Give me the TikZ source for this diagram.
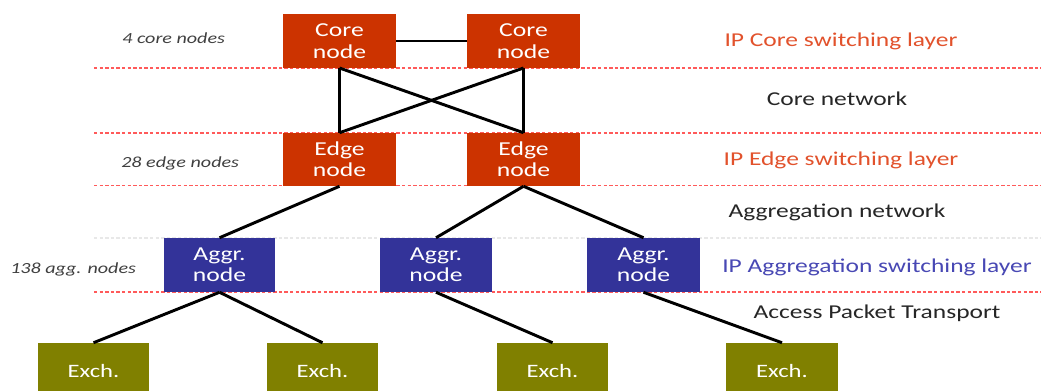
\documentclass[tikz,border=0pt]{standalone}
\usepackage{fontspec}
\setmainfont{Carlito}[FakeStretch=1.3]
\definecolor{corered}{RGB}{204,51,0}
\definecolor{aggblue}{RGB}{51,51,153}
\definecolor{exolive}{RGB}{128,128,0}
\definecolor{lblred}{RGB}{226,82,44}
\definecolor{lblblue}{RGB}{72,72,180}
\definecolor{lbldark}{RGB}{38,38,38}
\definecolor{lblgray}{RGB}{64,64,64}
\definecolor{dashred}{RGB}{255,90,90}
\definecolor{dashfaint}{RGB}{232,232,232}
\tikzset{
  box/.style={rectangle, inner sep=0pt, text=white, align=center,
    font=\fontsize{14.8}{16}\selectfont},
  corebox/.style={box, fill=corered, minimum width=84.75pt, minimum height=40.1pt},
  edgebox/.style={box, fill=corered, minimum width=84.75pt, minimum height=39.75pt},
  aggbox/.style={box, fill=aggblue, minimum height=40.5pt},
  exbox/.style={box, fill=exolive, minimum width=83.25pt, minimum height=41.25pt,
    font=\fontsize{14.2}{16}\selectfont},
  link/.style={draw=black, line width=2.2pt},
  layerline/.style={draw=dashred, line width=0.8pt, dash pattern=on 2.6pt off 1.6pt},
  faintline/.style={draw=dashfaint, line width=0.8pt, dash pattern=on 2.6pt off 1.6pt},
  rlabel/.style={font=\fontsize{14.7}{17}\selectfont},
  llabel/.style={font=\fontsize{11.6}{14}\selectfont\itshape, text=lblgray, anchor=west, inner sep=0pt}
}
\begin{document}
\begin{tikzpicture}[x=0.75pt,y=-0.75pt]
\clip (0,0) rectangle (1041,390);
\fill[white] (0,0) rectangle (1041,390);

% layer separators
\draw[layerline] (94,68) -- (1041,68);
\draw[layerline] (94,133) -- (1041,133);
\draw[layerline] (94,185.5) -- (1041,185.5);
\draw[faintline] (94,238) -- (1041,238);
\draw[layerline] (94,292) -- (1041,292);

% nodes
\node[corebox] (coreL) at (339.5,41) {Core\\node};
\node[corebox] (coreR) at (523.5,41) {Core\\node};
\node[edgebox] (edgeL) at (339.5,159.5) {Edge\\node};
\node[edgebox] (edgeR) at (523.5,159.5) {Edge\\node};
\node[aggbox, minimum width=83.25pt] (agg1) at (219.5,265) {Aggr.\\node};
\node[aggbox, minimum width=84pt] (agg2) at (436,265) {Aggr.\\node};
\node[aggbox, minimum width=84.75pt] (agg3) at (643.5,265) {Aggr.\\node};
\node[exbox] (ex1) at (93.5,370.5) {Exch.};
\node[exbox] (ex2) at (322.5,370.5) {Exch.};
\node[exbox] (ex3) at (552.5,370.5) {Exch.};
\node[exbox, minimum width=84pt] (ex4) at (782,370.5) {Exch.};

% connectors
\draw[link] (coreL.east) -- (coreR.west);
\draw[link] (coreL.south) -- (edgeL.north);
\draw[link] (coreR.south) -- (edgeR.north);
\draw[link] (coreL.south) -- (edgeR.north);
\draw[link] (coreR.south) -- (edgeL.north);
\draw[link] (edgeL.south) -- (agg1.north);
\draw[link] (edgeR.south) -- (agg2.north);
\draw[link] (edgeR.south) -- (agg3.north);
\draw[link] (agg1.south) -- (ex1.north);
\draw[link] (agg1.south) -- (ex2.north);
\draw[link] (agg2.south) -- (ex3.north);
\draw[link] (agg3.south) -- (ex4.north);

% left labels
\node[llabel] (lcore) at (122,38) {4 core nodes};
\node[llabel] (ledge) at (121,163) {28 edge nodes};
\node[llabel] (lagg) at (10,269) {138 agg. nodes};

% right labels
\node[rlabel, text=lblred] (tcore) at (841,41) {IP Core switching layer};
\node[rlabel, text=lbldark] (tcnet) at (837,99) {Core network};
\node[rlabel, text=lblred] (tedge) at (841,160) {IP Edge switching layer};
\node[rlabel, text=lbldark] (tanet) at (837,212) {Aggregation network};
\node[rlabel, text=lblblue] (tagg) at (877,267) {IP Aggregation switching layer};
\node[rlabel, text=lbldark] (tacc) at (877,313) {Access Packet Transport};
\end{tikzpicture}
\end{document}
